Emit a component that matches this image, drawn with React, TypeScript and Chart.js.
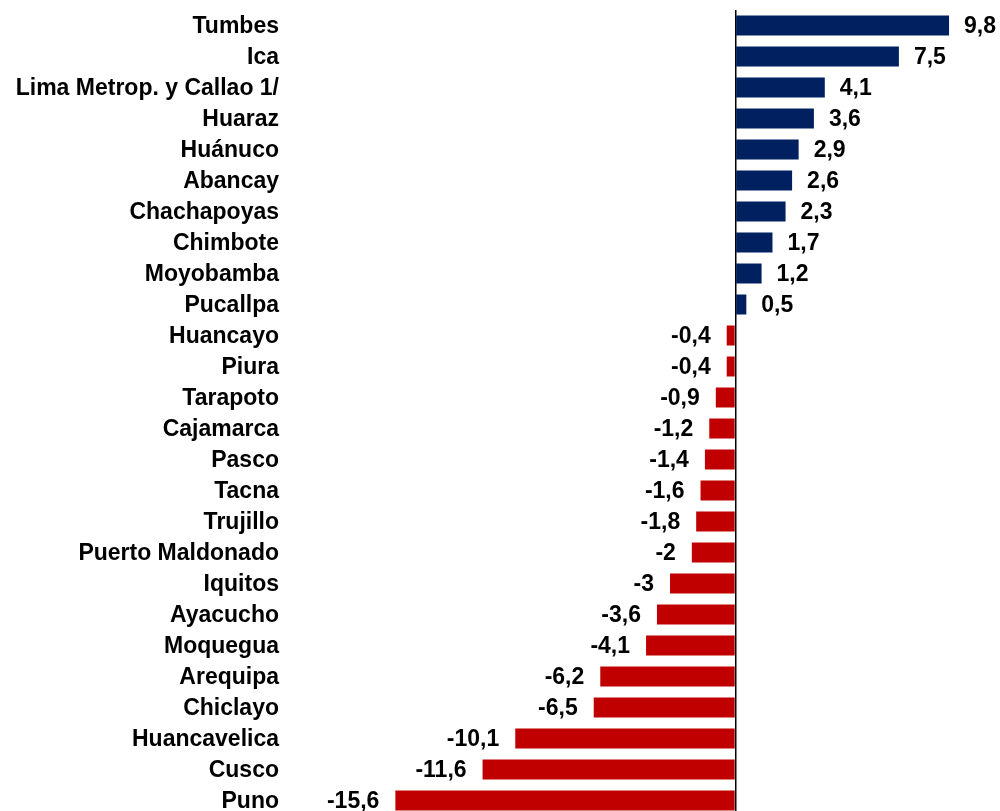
import React, { useEffect, useRef } from "react";
import { Chart, registerables } from "chart.js";

Chart.register(...registerables);

const categories = [
  "Tumbes",
  "Ica",
  "Lima Metrop. y Callao 1/",
  "Huaraz",
  "Huánuco",
  "Abancay",
  "Chachapoyas",
  "Chimbote",
  "Moyobamba",
  "Pucallpa",
  "Huancayo",
  "Piura",
  "Tarapoto",
  "Cajamarca",
  "Pasco",
  "Tacna",
  "Trujillo",
  "Puerto Maldonado",
  "Iquitos",
  "Ayacucho",
  "Moquegua",
  "Arequipa",
  "Chiclayo",
  "Huancavelica",
  "Cusco",
  "Puno",
];

const values = [
  9.8, 7.5, 4.1, 3.6, 2.9, 2.6, 2.3, 1.7, 1.2, 0.5, -0.4, -0.4, -0.9, -1.2,
  -1.4, -1.6, -1.8, -2, -3, -3.6, -4.1, -6.2, -6.5, -10.1, -11.6, -15.6,
];

const POS_COLOR = "#002060";
const NEG_COLOR = "#C00000";
const FONT_FAMILY = '"Liberation Sans", Arial, sans-serif';

const fmt = (v: number) => String(v).replace(".", ",");

const valueLabels = {
  id: "valueLabels",
  afterDatasetsDraw(chart: any) {
    const ctx = chart.ctx;
    const meta = chart.getDatasetMeta(0);
    ctx.save();
    ctx.font = `bold 23px ${FONT_FAMILY}`;
    ctx.fillStyle = "#000";
    ctx.textBaseline = "middle";
    meta.data.forEach((bar: any, i: number) => {
      const v = values[i];
      if (v >= 0) {
        ctx.textAlign = "left";
        ctx.fillText(fmt(v), bar.x + 15, bar.y + 1);
      } else {
        ctx.textAlign = "right";
        ctx.fillText(fmt(v), bar.x - 16, bar.y + 1);
      }
    });
    ctx.restore();
  },
};

export default function App() {
  const ref = useRef<HTMLCanvasElement | null>(null);

  useEffect(() => {
    document.documentElement.style.overflow = "hidden";
    if (!ref.current) return;
    const chart = new Chart(ref.current, {
      type: "bar",
      data: {
        labels: categories,
        datasets: [
          {
            data: values,
            backgroundColor: values.map((v) => (v >= 0 ? POS_COLOR : NEG_COLOR)),
            borderWidth: 0,
            barPercentage: 0.645,
            categoryPercentage: 1,
          },
        ],
      },
      options: {
        indexAxis: "y",
        animation: false,
        responsive: false,
        maintainAspectRatio: false,
        layout: { padding: { top: 2, bottom: 0, left: 0, right: 3 } },
        plugins: {
          legend: { display: false },
          tooltip: { enabled: false },
        },
        scales: {
          x: {
            min: -20.48,
            max: 12,
            afterBuildTicks: (scale: any) => {
              scale.ticks = [{ value: 0 }];
            },
            afterFit: (scale: any) => {
              scale.paddingLeft = 0;
              scale.paddingRight = 0;
            },
            ticks: { display: false },
            border: { display: false },
            grid: {
              drawTicks: false,
              color: (c: any) => (c.tick && c.tick.value === 0 ? "#000" : "transparent"),
              lineWidth: 1.5,
            },
          },
          y: {
            afterFit: (scale: any) => {
              scale.width = 281;
              scale.paddingTop = 0;
              scale.paddingBottom = 0;
            },
            border: { display: false },
            grid: { display: false, drawTicks: false },
            ticks: {
              autoSkip: false,
              padding: 10,
              labelOffset: 1,
              color: "#000",
              font: { family: FONT_FAMILY, size: 23, weight: "bold" },
            },
          },
        },
      },
      plugins: [valueLabels],
    });
    return () => chart.destroy();
  }, []);

  return (
    <div style={{ position: "fixed", left: 8, top: 8, width: 992, height: 808, overflow: "visible" }}>
      <canvas ref={ref} width={992} height={808} style={{ width: 992, height: 808, display: "block" }} />
    </div>
  );
}
